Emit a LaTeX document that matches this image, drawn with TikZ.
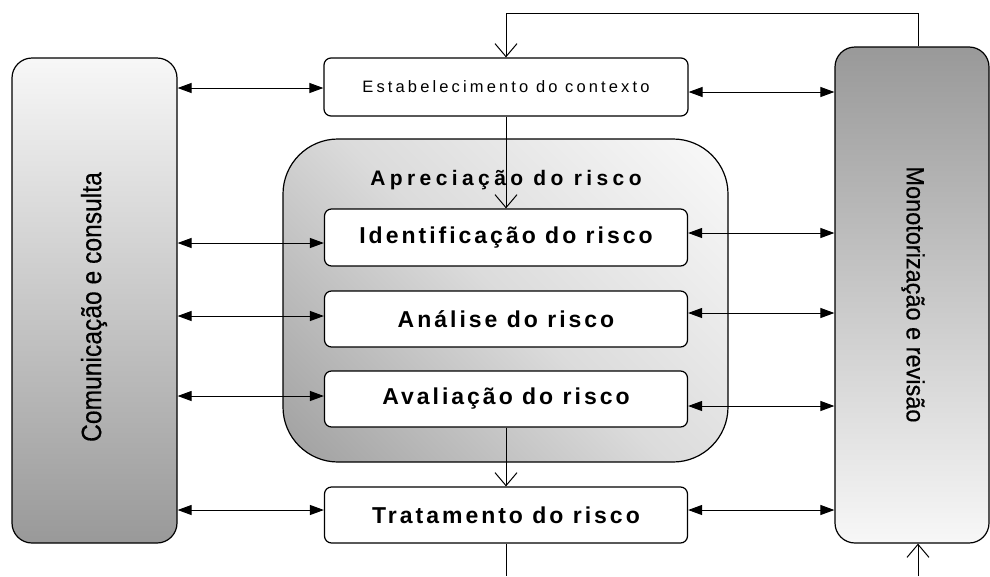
\documentclass[tikz,border=0pt]{standalone}
\usepackage{fontspec}
\setmainfont{Liberation Sans}
\newfontfamily\estfont[LetterSpace=19]{Liberation Sans}
\newfontfamily\boxfont[LetterSpace=13]{Liberation Sans}
\newfontfamily\titfont[LetterSpace=21]{Liberation Sans}
\newfontfamily\sidefont[FakeBold=0.4]{Liberation Sans}
\usetikzlibrary{arrows.meta,shadings}
\pgfdeclareverticalshading{aprshade}{100bp}{color(0bp)=(black!38); color(14bp)=(black!38); color(50bp)=(black!14); color(86bp)=(white!98!black); color(100bp)=(white!98!black)}
\begin{document}
\begin{tikzpicture}[x=1pt,y=-1pt,
  bar/.style={draw, line width=1.2pt, rounded corners=20pt, inner sep=0pt},
  stagebox/.style={draw, line width=1.2pt, rounded corners=7pt, fill=white, minimum width=363pt, inner sep=0pt},
  dbl/.style={line width=1pt, {Triangle[length=14pt,width=10pt]}-{Triangle[length=14pt,width=10pt]}},
  flow/.style={line width=1pt, -{Straight Barb[length=13pt,width=22pt,line width=1pt]}},
  plain/.style={line width=1pt}]
\useasboundingbox (0,0) rectangle (990,576);
% side bars
\node[bar, minimum width=165pt, minimum height=485pt, top color=white!97!black, bottom color=black!40] (comm) at (94.5,300.5) {};
\node[bar, minimum width=154pt, minimum height=496pt, top color=black!40, bottom color=white!97!black] (mon) at (912,295) {};
\node[rotate=90, font=\sidefont\fontsize{28}{30}\selectfont] (commtxt) at (94,307) {\scalebox{0.88}[1]{Comunicação e consulta}};
\node[rotate=-90, font=\sidefont\fontsize{25}{27}\selectfont] (montxt) at (913,294.5) {\scalebox{0.94}[1]{Monotorização e revisão}};
% big box
\node[draw, line width=1.2pt, rounded corners=55pt, minimum width=445pt, minimum height=323pt, inner sep=0pt,
  shading=aprshade, shading angle=-45] (apr) at (505.5,300.5) {};
\node[font=\titfont\bfseries\fontsize{21}{23}\selectfont] (aprtxt) at (506,180) {Apreciação do risco};
% stage boxes
\node[stagebox, minimum width=364pt, minimum height=58pt, font=\estfont\fontsize{16.5}{18}\selectfont] (est) at (506,87) {Estabelecimento do contexto};
\node[stagebox, minimum height=57pt, font=\boxfont\bfseries\fontsize{23}{25}\selectfont] (ident) at (506,237.5) {Identificação do risco};
\node[stagebox, minimum height=56pt, font=\boxfont\bfseries\fontsize{23}{25}\selectfont] (anal) at (506,319) {Análise do risco};
\node[stagebox, minimum height=56pt, font=\boxfont\bfseries\fontsize{23}{25}\selectfont] (aval) at (506,399) {Avaliação do risco};
\node[stagebox, minimum height=56pt, font=\boxfont\bfseries\fontsize{23}{25}\selectfont] (trat) at (506,515) {Tratamento do risco};
% helper coordinates
\coordinate (tl) at (506,13);
\coordinate (tr) at (918,13);
\coordinate (bl) at (506,576);
\coordinate (br) at (918,576);
\coordinate (l1) at (0,88);
\coordinate (l2) at (0,243);
\coordinate (l3) at (0,316);
\coordinate (l4) at (0,396);
\coordinate (l5) at (0,510);
\coordinate (r1) at (0,92);
\coordinate (r2) at (0,233);
\coordinate (r3) at (0,313);
\coordinate (r4) at (0,406);
\coordinate (r5) at (0,510);
% feedback loops
\draw[flow] (tr |- mon.north) -- (tr) -- (tl) -- (tl |- est.north);
\draw[plain] (trat.south) -- (bl);
\draw[flow] (br) -- (br |- mon.south);
% vertical flow
\draw[flow] (est.south) -- (ident.north);
\draw[flow] (aval.south) -- (trat.north);
% left links
\draw[dbl] (comm.east |- l1) -- (est.west |- l1);
\draw[dbl] (comm.east |- l2) -- (ident.west |- l2);
\draw[dbl] (comm.east |- l3) -- (anal.west |- l3);
\draw[dbl] (comm.east |- l4) -- (aval.west |- l4);
\draw[dbl] (comm.east |- l5) -- (trat.west |- l5);
% right links
\draw[dbl] (est.east |- r1) -- (mon.west |- r1);
\draw[dbl] (ident.east |- r2) -- (mon.west |- r2);
\draw[dbl] (anal.east |- r3) -- (mon.west |- r3);
\draw[dbl] (aval.east |- r4) -- (mon.west |- r4);
\draw[dbl] (trat.east |- r5) -- (mon.west |- r5);
\end{tikzpicture}
\end{document}
